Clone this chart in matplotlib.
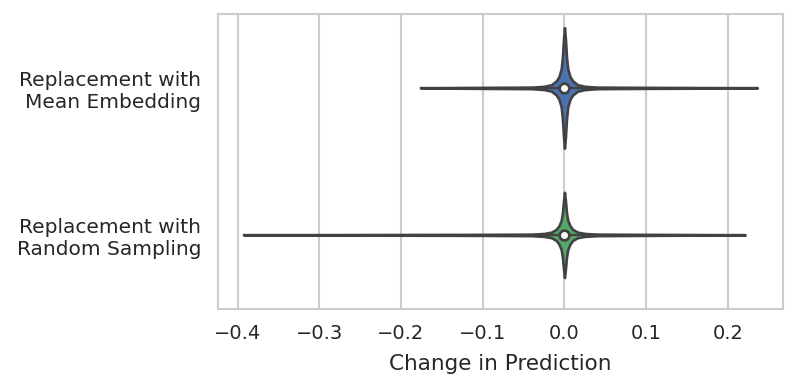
import numpy as np
import matplotlib
matplotlib.use("Agg")
from matplotlib import pyplot as plt

# kategorije (odozgo prema dolje)
labels = ["Replacement with\nMean Embedding", "Replacement with\nRandom Sampling"]
colors = ["#4c72b0", "#55a868"]

# raspon podataka (min, max) za svaku kategoriju
data_min = [-0.176, -0.3925]
data_max = [0.236, 0.221]
medians = [0.0, 0.0]

# profil gustoće: udaljenost od medijana i polu-širina violine
dx_profile = [0.0, 0.0012, 0.0025, 0.004, 0.0067, 0.010, 0.016, 0.025, 0.04, 0.10]
w_mean = [0.41, 0.33, 0.21, 0.13, 0.078, 0.048, 0.022, 0.011, 0.005, 0.003]
w_random = [0.29, 0.23, 0.15, 0.10, 0.063, 0.038, 0.019, 0.010, 0.005, 0.003]
widths = [w_mean, w_random]

plt.rcParams["font.family"] = "DejaVu Sans"
fig = plt.figure(figsize=(8, 3.89), dpi=100)
ax = fig.add_axes([0.2725, 0.206, 0.7063, 0.758])

outline = "#424242"
for i in range(len(labels)):
    dx = np.array(dx_profile)
    w = np.array(widths[i])
    m = medians[i]
    # lijeva i desna strana + repovi do min/max
    left_x = m - dx[::-1]
    left_w = w[::-1]
    right_x = m + dx[1:]
    right_w = w[1:]
    xs = np.concatenate([[data_min[i]], left_x, right_x, [data_max[i]]])
    ws = np.concatenate([[0.0], left_w, right_w, [0.0]])
    ax.fill_between(xs, i - ws, i + ws, facecolor=colors[i], edgecolor=outline,
                    linewidth=1.9, zorder=2)
    ax.plot([data_min[i], data_max[i]], [i, i], color=outline, lw=1.7, zorder=2)
    ax.plot(m, i, "o", color="white", markersize=7, markeredgecolor=outline,
            markeredgewidth=2, zorder=3)

ax.set_yticks(range(len(labels)))
ax.set_yticklabels(labels, fontsize=14.5)
ax.set_ylim(1.503, -0.503)
xr = data_max[0] - min(data_min)
ax.set_xlim(min(data_min) - 0.05 * xr, max(data_max) + 0.05 * xr)
ax.set_xticks([-0.4, -0.3, -0.2, -0.1, 0.0, 0.1, 0.2])
ax.tick_params(axis="x", labelsize=14, length=0, pad=11)
ax.tick_params(axis="y", length=0, pad=12)
ax.set_xlabel("Change in Prediction", fontsize=15.5, labelpad=8)

ax.xaxis.grid(True, color="#cccccc", lw=1.5, zorder=0)
ax.set_axisbelow(True)
for s in ax.spines.values():
    s.set_color("#cccccc")
    s.set_linewidth(1.5)
for t in ax.get_xticklabels() + ax.get_yticklabels():
    t.set_color("#262626")
ax.xaxis.label.set_color("#262626")

plt.savefig("out.png", dpi=100)
